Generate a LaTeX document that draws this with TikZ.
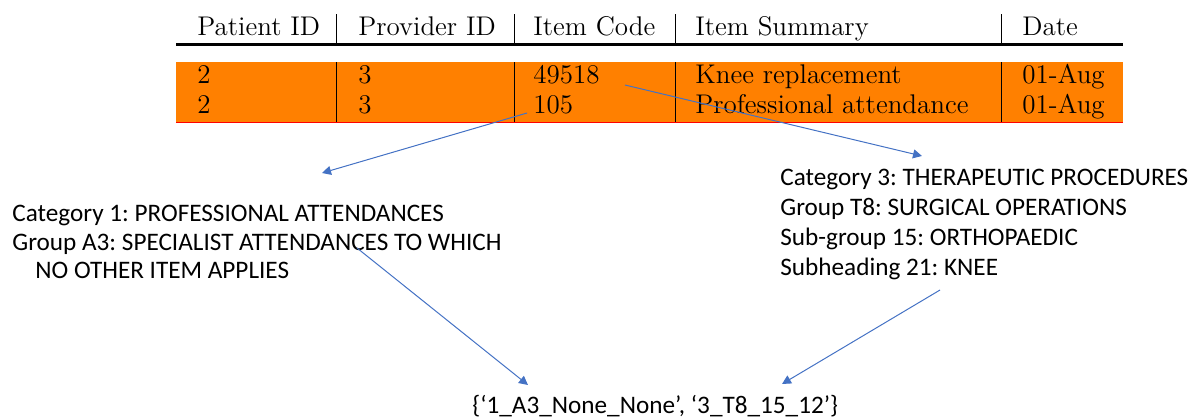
\documentclass[tikz,border=0pt]{standalone}
\usepackage{fontspec}
\setsansfont{Carlito}
\usepackage{xcolor}
\usepackage{tikz}
\usetikzlibrary{arrows.meta}

\definecolor{rowfill}{RGB}{255,128,0}
\definecolor{linkblue}{RGB}{68,114,196}

\begin{document}
\frenchspacing
\begin{tikzpicture}[
      x=0.5pt, y=-0.5pt,
      cell/.style={font=\fontsize{13.5}{16}\selectfont, anchor=base west, inner sep=0pt},
      code/.style={font=\sffamily\fontsize{12.6}{15}\selectfont, anchor=base west, inner sep=0pt},
      colsep/.style={line width=0.5pt},
      link/.style={linkblue, line width=0.5pt, -{Triangle[length=4.5pt, width=4.5pt]}}
  ]
    \useasboundingbox (0,0) rectangle (1192,419);

    % table: header, rule, highlighted rows
    \fill[rowfill] (176,62) rectangle (1123,122);
    \draw[line width=1.1pt] (176,44.5) -- (1123,44.5);
    \draw[red, line width=0.6pt] (176,122.5) -- (1123,122.5);
    \foreach \x in {336,514,675,1001} {
        \draw[colsep] (\x,14) -- (\x,43);
        \draw[colsep] (\x,62) -- (\x,122);
    }
    \foreach \x/\t [count=\i] in {197/Patient ID, 358/Provider ID, 533/Item Code, 695/Item Summary, 1022/Date} {
        \node[cell] (head\i) at (\x,35) {\t};
    }
    \foreach \x/\t [count=\i] in {197/2, 358/3, 533/49518, 695/Knee replacement, 1022/01-Aug} {
        \node[cell] (rowA\i) at (\x,83) {\t};
    }
    \foreach \x/\t [count=\i] in {197/2, 358/3, 533/105, 695/Professional attendance, 1022/01-Aug} {
        \node[cell] (rowB\i) at (\x,113) {\t};
    }

    % item 105
    \node[code] (catA) at (12,221) {Category 1: PROFESSIONAL ATTENDANCES};
    \node[code] (grpA) at (12,250) {Group A3: SPECIALIST ATTENDANCES TO WHICH};
    \node[code] (grpAmore) at (35,278) {NO OTHER ITEM APPLIES};

    % item 49518
    \node[code] (catB) at (780,185) {Category 3: THERAPEUTIC PROCEDURES};
    \node[code] (grpB) at (780,215) {Group T8: SURGICAL OPERATIONS};
    \node[code] (subB) at (780,245) {Sub-group 15: ORTHOPAEDIC};
    \node[code] (headB) at (780,275) {Subheading 21: KNEE};

    \node[code] (result) at (472,413) {\{‘1\_A3\_None\_None’, ‘3\_T8\_15\_12’\}};

    \coordinate (kneeFrom) at (625,85);
    \coordinate (profTo) at (322,173);
    \coordinate (kneeTo) at (922,156);
    \coordinate (grpAFrom) at (357,248);
    \coordinate (headBFrom) at (940,290);
    \coordinate (resLeft) at (528,385);
    \coordinate (resRight) at (782,384);

    \draw[link] ([xshift=-3pt]rowB3.base west) -- (profTo);
    \draw[link] (kneeFrom) -- (kneeTo);
    \draw[link] (grpAFrom) -- (resLeft);
    \draw[link] (headBFrom) -- (resRight);
  \end{tikzpicture}
\end{document}
